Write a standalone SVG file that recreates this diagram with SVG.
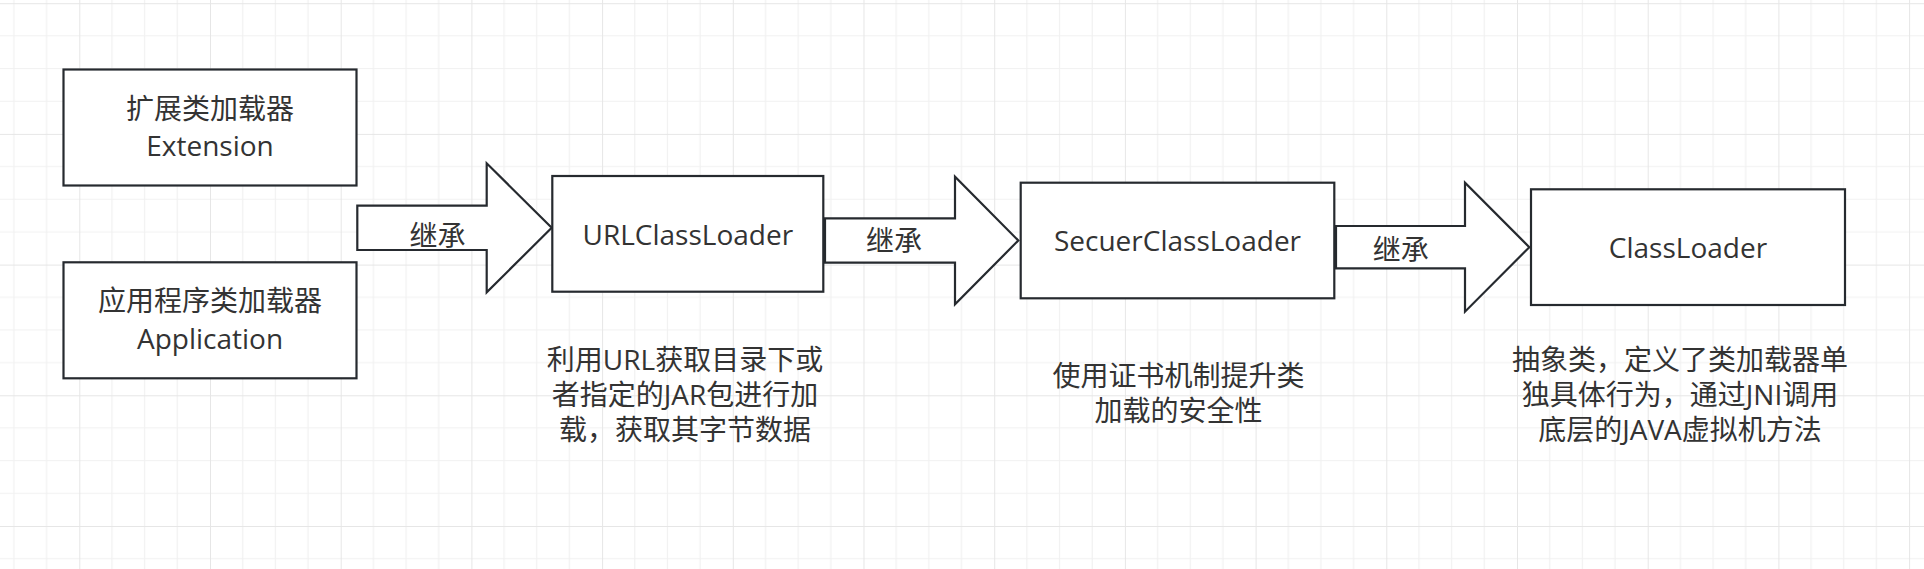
<svg xmlns="http://www.w3.org/2000/svg" width="1924" height="569" viewBox="0 0 1924 569">
  <defs>
    <pattern id="grid" patternUnits="userSpaceOnUse" x="79.3" y="3.2" width="130.7" height="130.7">
      <path d="M32.675 0V130.7M65.35 0V130.7M98.025 0V130.7M0 32.675H130.7M0 65.35H130.7M0 98.025H130.7" stroke="#f1f1f1" stroke-width="1.2" fill="none"/>
      <path d="M0 0V130.7M0 0H130.7" stroke="#e6e6e6" stroke-width="2" fill="none"/>
    </pattern>
    <style>
      .box { fill: #ffffff; stroke: #262a2f; stroke-width: 2.2; }
      .arrow { fill: #ffffff; stroke: #262a2f; stroke-width: 2.2; stroke-linejoin: miter; }
      text { font-family: "Open Sans", "Noto Sans CJK SC", sans-serif; font-size: 28px; fill: #333333; text-anchor: middle; }
    </style>
  </defs>
  <rect x="0" y="0" width="1924" height="569" fill="#ffffff"/>
  <rect x="0" y="0" width="1924" height="569" fill="url(#grid)"/>

  <g id="connectors">
    <g id="arrow1">
      <polygon class="arrow" points="357.3,205.7 486.7,205.7 486.7,163.3 551.7,227.8 486.7,292.3 486.7,250 357.3,250"/>
      <text x="437.5" y="245.6">继承</text>
    </g>
    <g id="arrow2">
      <polygon class="arrow" points="825,218.3 955,218.3 955,176.7 1018.3,240.5 955,304.3 955,262.7 825,262.7"/>
      <text x="894" y="250.6">继承</text>
    </g>
    <g id="arrow3">
      <polygon class="arrow" points="1336,226 1465,226 1465,182.7 1529.3,247.2 1465,311.7 1465,268.3 1336,268.3"/>
      <text x="1400.8" y="259.6">继承</text>
    </g>
  </g>

  <g id="extension">
    <rect class="box" x="63.5" y="69.5" width="293" height="116"/>
    <text x="210" y="118.5">扩展类加载器</text>
    <text x="210" y="156">Extension</text>
  </g>

  <g id="application">
    <rect class="box" x="63.5" y="262.3" width="293" height="116"/>
    <text x="210" y="311.3">应用程序类加载器</text>
    <text x="210" y="348.8">Application</text>
  </g>

  <g id="urlclassloader">
    <rect class="box" x="552.3" y="176" width="271" height="115.7"/>
    <text x="687.8" y="245">URLClassLoader</text>
  </g>

  <g id="secuerclassloader">
    <rect class="box" x="1020.7" y="182.7" width="313.6" height="115.6"/>
    <text x="1177.5" y="250.7">SecuerClassLoader</text>
  </g>

  <g id="classloader">
    <rect class="box" x="1531" y="189.3" width="314" height="115.7"/>
    <text x="1688" y="258.3">ClassLoader</text>
  </g>

  <g id="url-desc">
    <text x="685" y="370"><tspan x="685" y="370">利用URL获取目录下或</tspan><tspan x="685" y="405">者指定的JAR包进行加</tspan><tspan x="685" y="440">载，获取其字节数据</tspan></text>
  </g>

  <g id="secuer-desc">
    <text x="1178.6" y="386"><tspan x="1178.6" y="386">使用证书机制提升类</tspan><tspan x="1178.6" y="421">加载的安全性</tspan></text>
  </g>

  <g id="classloader-desc">
    <text x="1680" y="370"><tspan x="1680" y="370">抽象类，定义了类加载器单</tspan><tspan x="1680" y="405">独具体行为，通过JNI调用</tspan><tspan x="1680" y="440">底层的JAVA虚拟机方法</tspan></text>
  </g>
</svg>
